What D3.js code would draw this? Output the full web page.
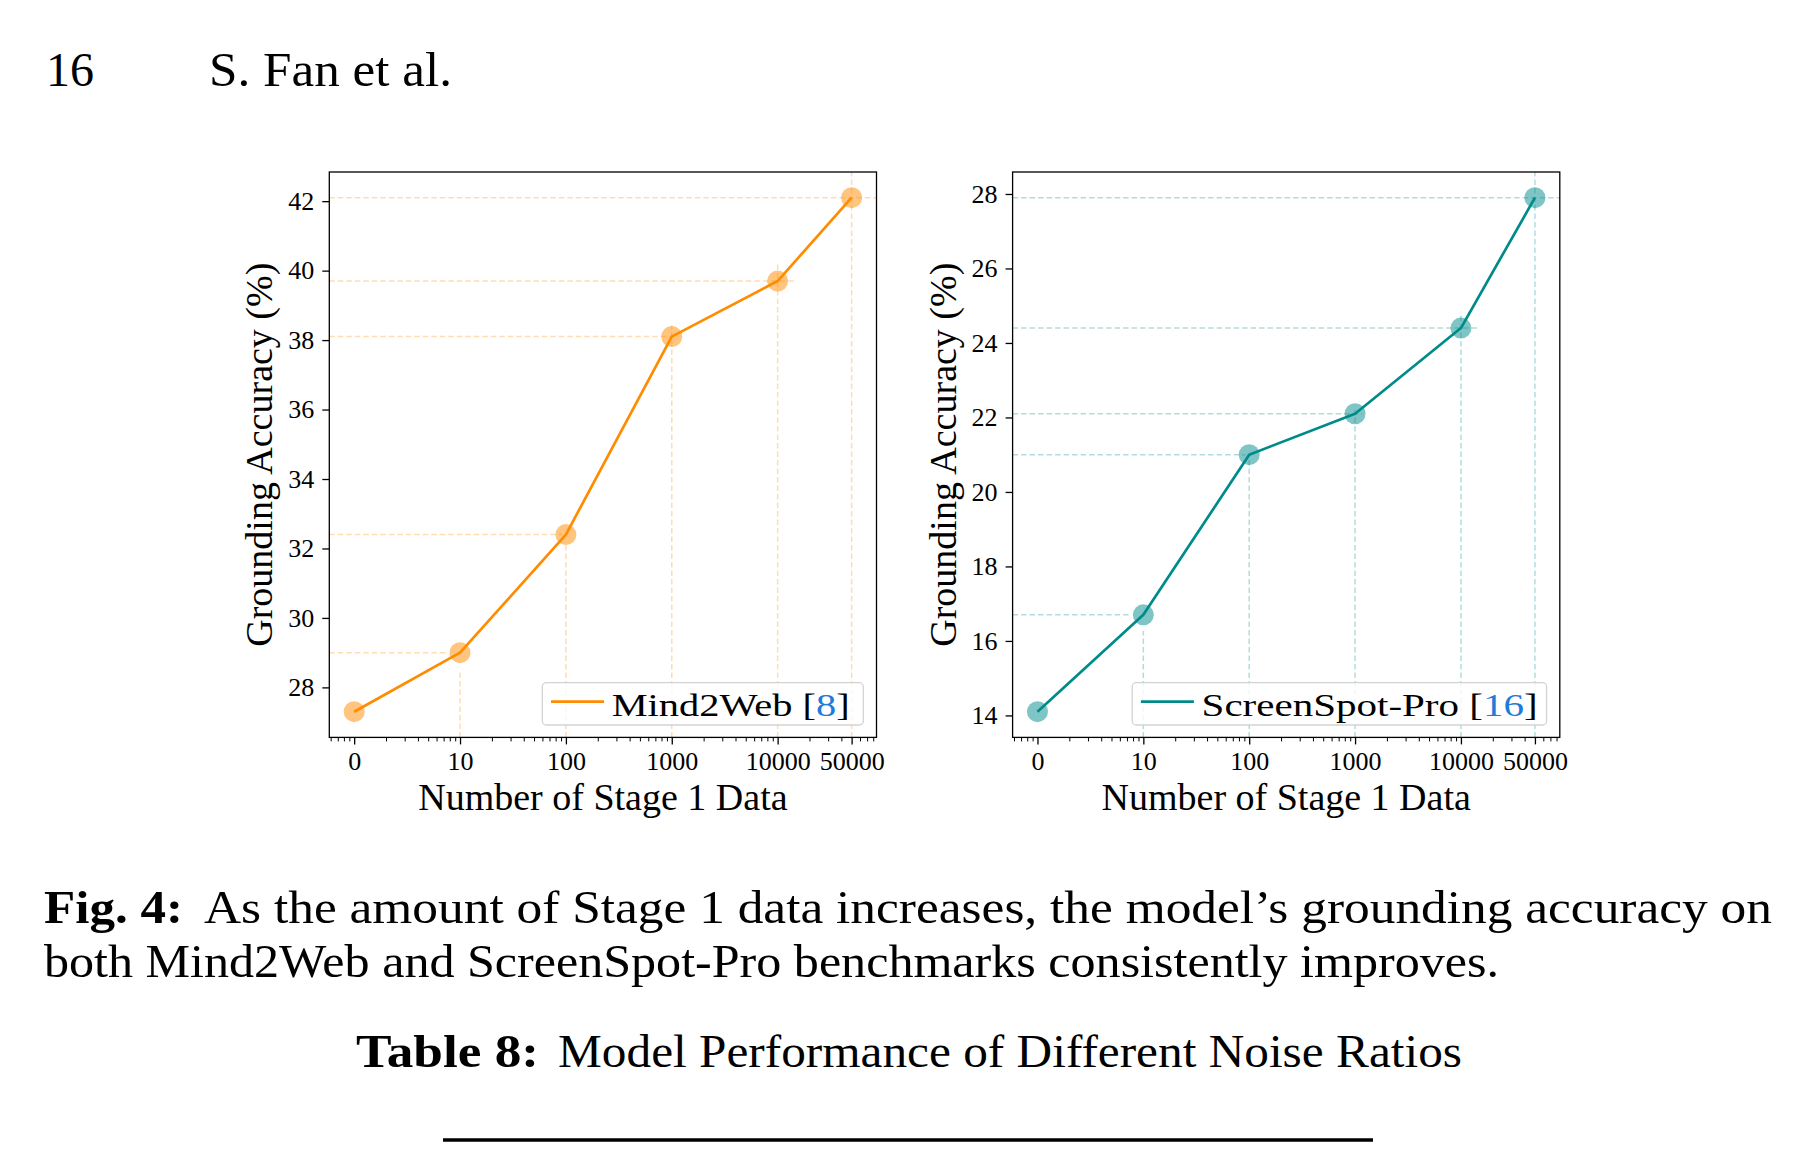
<!DOCTYPE html>
<html>
<head>
<meta charset="utf-8">
<script src="https://cdn.jsdelivr.net/npm/d3@7"></script>
<style>body { margin: 0; background: #fff; }</style>
</head>
<body>
<script>
// stage 1 data sizes; "0" is plotted at 1 so it fits on the log axis
var stageSizes = [1, 10, 100, 1000, 10000, 50000];
var stageLabels = ['0', '10', '100', '1000', '10000', '50000'];
var mind2web = [27.3, 29.0, 32.4, 38.1, 39.7, 42.1];
var screenspot = [14.1, 16.7, 21.0, 22.1, 24.4, 27.9];

var serif = '"Liberation Serif", "Times New Roman", serif';
var W = 547.2, H = 565.4, plotTop = 172;

var svg = d3.select('body').append('svg')
    .attr('width', 1818)
    .attr('height', 1161)
    .style('background-color', '#fff');

//page header
svg.append('text').attr('x', 46).attr('y', 86)
    .attr('font-family', serif).attr('font-size', '48px')
    .text('16');
svg.append('text').attr('x', 209).attr('y', 86)
    .attr('font-family', serif).attr('font-size', '48px')
    .attr('textLength', 243).attr('lengthAdjust', 'spacingAndGlyphs')
    .text('S. Fan et al.');

function panel(left, values, color, name, ref) {
    var lo = Math.log10(stageSizes[0]), hi = Math.log10(stageSizes[stageSizes.length - 1]);
    var pad = 0.05 * (hi - lo);
    var xscale = d3.scaleLog()
        .domain([Math.pow(10, lo - pad), Math.pow(10, hi + pad)])
        .range([0, W]);
    var vmin = d3.min(values), vmax = d3.max(values);
    var vpad = 0.05 * (vmax - vmin);
    var yscale = d3.scaleLinear()
        .domain([vmin - vpad, vmax + vpad])
        .range([H, 0]);

    var g = svg.append('g').attr('transform', 'translate(' + left + ',' + plotTop + ')');

    //dashed guide lines (drawn as axes fractions of the data extent)
    var guides = g.append('g')
        .attr('stroke', color).attr('stroke-opacity', 0.3)
        .attr('stroke-width', 1.5).attr('stroke-dasharray', '5.5,3');
    stageSizes.forEach(function (s, i) {
        var xf = (Math.log10(s) - lo) / (hi - lo);
        var yf = (values[i] - vmin) / (vmax - vmin);
        if (xf <= 0) return;
        guides.append('line')
            .attr('x1', 0).attr('x2', xf * W)
            .attr('y1', yscale(values[i])).attr('y2', yscale(values[i]));
        guides.append('line')
            .attr('x1', xscale(s)).attr('x2', xscale(s))
            .attr('y1', H).attr('y2', H - yf * H);
    });

    //markers
    g.selectAll('circle')
        .data(values)
        .enter().append('circle')
            .attr('cx', function (d, i) { return xscale(stageSizes[i]); })
            .attr('cy', function (d) { return yscale(d); })
            .attr('r', 10.5)
            .style('fill', color)
            .style('opacity', 0.5);

    //line
    var line = d3.line()
        .x(function (d, i) { return xscale(stageSizes[i]); })
        .y(function (d) { return yscale(d); });
    g.append('path')
        .datum(values)
        .attr('d', line)
        .attr('fill', 'none')
        .attr('stroke', color)
        .attr('stroke-width', 2.7)
        .attr('stroke-linejoin', 'round');

    //y axis
    var yaxis = g.append('g')
        .call(d3.axisLeft(yscale).ticks(8).tickSize(7).tickSizeOuter(0).tickPadding(8));
    yaxis.select('.domain').remove();
    yaxis.selectAll('text').attr('font-family', serif).attr('font-size', '26px').attr('fill', '#000');
    yaxis.selectAll('line').attr('stroke-width', 1.3);

    //x axis, minor then major ticks
    var minors = xscale.ticks().filter(function (t) { return stageSizes.indexOf(t) < 0; });
    var xminor = g.append('g').attr('transform', 'translate(0,' + H + ')')
        .call(d3.axisBottom(xscale).tickValues(minors).tickSize(4).tickFormat(''));
    xminor.select('.domain').remove();
    xminor.selectAll('line').attr('stroke-width', 1);

    var xaxis = g.append('g').attr('transform', 'translate(0,' + H + ')')
        .call(d3.axisBottom(xscale).tickValues(stageSizes).tickSize(7)
            .tickFormat(function (d, i) { return stageLabels[i]; }));
    xaxis.select('.domain').remove();
    xaxis.selectAll('line').attr('stroke-width', 1.3);
    xaxis.selectAll('text').attr('font-family', serif).attr('font-size', '26px')
        .attr('fill', '#000').attr('y', 33).attr('dy', 0);

    //frame
    g.append('rect')
        .attr('width', W).attr('height', H)
        .attr('fill', 'none').attr('stroke', '#000').attr('stroke-width', 1.3);

    //axis labels
    g.append('text')
        .attr('x', W / 2).attr('y', H + 72.5)
        .attr('text-anchor', 'middle')
        .attr('font-family', serif).attr('font-size', '38px')
        .text('Number of Stage 1 Data');
    g.append('text')
        .attr('transform', 'translate(-57,' + (H / 2) + ') rotate(-90)')
        .attr('text-anchor', 'middle')
        .attr('font-family', serif).attr('font-size', '38px')
        .text('Grounding Accuracy (%)');

    //legend
    var lw = name === 'Mind2Web' ? 321 : 414.4;
    var textW = name === 'Mind2Web' ? 238 : 336;
    var lg = g.append('g').attr('transform', 'translate(' + (W - 13.2 - lw) + ',' + (H - 54.7) + ')');
    lg.append('rect')
        .attr('width', lw).attr('height', 42.3).attr('rx', 4)
        .attr('fill', '#fff').attr('fill-opacity', 0.8)
        .attr('stroke', '#d3d3d3').attr('stroke-width', 1.3);
    lg.append('line')
        .attr('x1', 8.7).attr('x2', 61.7).attr('y1', 19).attr('y2', 19)
        .attr('stroke', color).attr('stroke-width', 2.7);
    var lt = lg.append('text')
        .attr('x', 69.4).attr('y', 33)
        .attr('font-family', serif).attr('font-size', '32px')
        .attr('textLength', textW).attr('lengthAdjust', 'spacingAndGlyphs');
    lt.append('tspan').text(name + ' [');
    lt.append('tspan').attr('fill', '#1f7bd8').text(ref);
    lt.append('tspan').text(']');
}

panel(329.3, mind2web, '#ff8c00', 'Mind2Web', '8');
panel(1012.6, screenspot, '#008b8b', 'ScreenSpot-Pro', '16');

//caption
function captionText(x, y, w, str, bold) {
    svg.append('text').attr('x', x).attr('y', y)
        .attr('font-family', serif).attr('font-size', '46px')
        .attr('font-weight', bold ? 'bold' : 'normal')
        .attr('textLength', w).attr('lengthAdjust', 'spacingAndGlyphs')
        .text(str);
}
captionText(44, 922.5, 139, 'Fig. 4:', true);
captionText(204, 922.5, 1568, 'As the amount of Stage 1 data increases, the model\u2019s grounding accuracy on', false);
captionText(44, 977, 1455, 'both Mind2Web and ScreenSpot-Pro benchmarks consistently improves.', false);
captionText(356, 1066.5, 183, 'Table 8:', true);
captionText(558, 1066.5, 904, 'Model Performance of Different Noise Ratios', false);

svg.append('line')
    .attr('x1', 443).attr('x2', 1373).attr('y1', 1140).attr('y2', 1140)
    .attr('stroke', '#000').attr('stroke-width', 3.5);
</script>
</body>
</html>
